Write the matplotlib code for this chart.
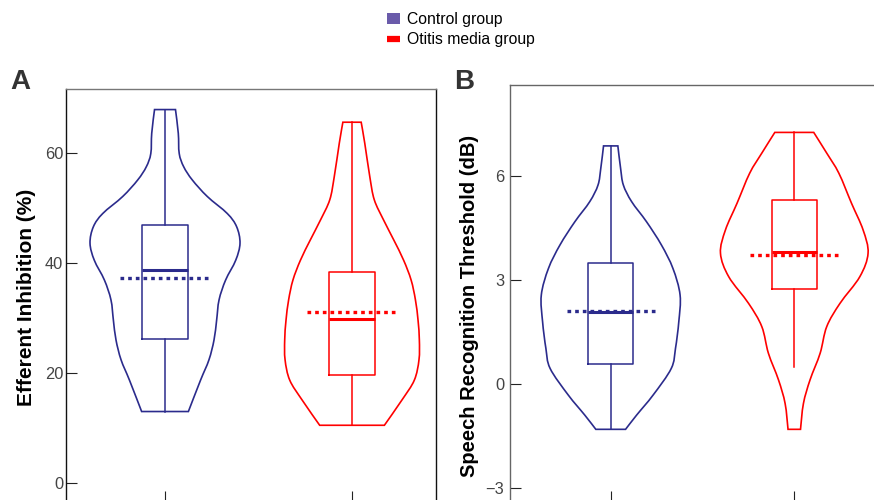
import matplotlib
matplotlib.use("Agg")
import matplotlib.pyplot as plt
from matplotlib.path import Path
from matplotlib.patches import PathPatch, Patch
from matplotlib.lines import Line2D

plt.rcParams['font.family'] = ['Liberation Sans', 'DejaVu Sans']

navy = '#2B2B8C'
red = '#FF0000'
legend_navy = '#6A5BAA'

groups = ['Control group', 'Otitis media group']
positions = [1, 2]

# Panel A: efferent inhibition (%) - violin outlines (level, half width)
a_ctrl_levels = [67.9, 63.6, 59.9, 57.5, 55.1, 52.1, 49.0, 46.6, 43.6, 40.5, 36.9, 33.3, 29.6, 26.0, 22.4, 18.7, 13.0]
a_ctrl_width = [0.056, 0.071, 0.076, 0.100, 0.146, 0.226, 0.333, 0.383, 0.401, 0.378, 0.324, 0.289, 0.276, 0.262, 0.235, 0.190, 0.125]
a_om_levels = [65.6, 61.8, 55.7, 51.5, 47.8, 44.2, 40.5, 36.9, 33.3, 29.6, 26.0, 22.4, 18.7, 15.1, 10.5]
a_om_width = [0.049, 0.068, 0.095, 0.119, 0.169, 0.223, 0.276, 0.316, 0.339, 0.353, 0.360, 0.358, 0.333, 0.267, 0.173]

a_q1 = [26.1, 19.6]
a_median = [38.7, 29.8]
a_q3 = [47.0, 38.4]
a_whislo = [13.0, 10.5]
a_whishi = [67.9, 65.6]
a_mean = [37.2, 31.1]

# Panel B: speech recognition threshold (dB)
b_ctrl_levels = [6.88, 6.23, 5.75, 5.27, 4.69, 4.02, 3.34, 2.57, 1.80, 1.03, 0.45, -0.32, -0.90, -1.31]
b_ctrl_width = [0.039, 0.054, 0.069, 0.114, 0.195, 0.276, 0.339, 0.378, 0.371, 0.353, 0.330, 0.231, 0.141, 0.081]
b_om_levels = [7.27, 6.67, 6.09, 5.22, 4.45, 3.78, 3.10, 2.33, 1.66, 0.89, 0.12, -0.56, -1.31]
b_om_width = [0.106, 0.177, 0.243, 0.312, 0.375, 0.402, 0.357, 0.249, 0.177, 0.141, 0.086, 0.050, 0.034]

b_q1 = [0.58, 2.74]
b_median = [2.09, 3.80]
b_q3 = [3.49, 5.33]
b_whislo = [-1.31, 0.50]
b_whishi = [6.88, 7.27]
b_mean = [2.12, 3.73]


def smooth_side(pts):
    # catmull-rom through the points, as bezier segments
    verts, codes = [], []
    n = len(pts)
    for i in range(n - 1):
        p0 = pts[max(i - 1, 0)]
        p1 = pts[i]
        p2 = pts[i + 1]
        p3 = pts[min(i + 2, n - 1)]
        c1 = (p1[0] + (p2[0] - p0[0]) / 6, p1[1] + (p2[1] - p0[1]) / 6)
        c2 = (p2[0] - (p3[0] - p1[0]) / 6, p2[1] - (p3[1] - p1[1]) / 6)
        verts += [c1, c2, p2]
        codes += [Path.CURVE4] * 3
    return verts, codes


def violin(ax, pos, levels, width, color):
    pairs = sorted(zip(levels, width))
    right = [(pos + w, v) for v, w in pairs]
    left = [(pos - w, v) for v, w in pairs[::-1]]
    verts = [right[0]]
    codes = [Path.MOVETO]
    v, c = smooth_side(right)
    verts += v
    codes += c
    verts.append(left[0])
    codes.append(Path.LINETO)
    v, c = smooth_side(left)
    verts += v
    codes += c
    verts.append(right[0])
    codes.append(Path.CLOSEPOLY)
    ax.add_patch(PathPatch(Path(verts, codes), facecolor='none', edgecolor=color, lw=1.2))


def panel(ax, violins, q1, med, q3, lo, hi, mean):
    colors = [navy, red]
    for i, (lv, wd) in enumerate(violins):
        violin(ax, positions[i], lv, wd, colors[i])
        stats = [dict(q1=q1[i], med=med[i], q3=q3[i], whislo=lo[i], whishi=hi[i], fliers=[])]
        ax.bxp(stats, positions=[positions[i]], widths=0.243, showcaps=False,
               showfliers=False, manage_ticks=False,
               boxprops=dict(color=colors[i], lw=1.1),
               whiskerprops=dict(color=colors[i], lw=1.1),
               medianprops=dict(color=colors[i], lw=2.2))
        ax.plot([positions[i] - 0.24, positions[i] + 0.24], [mean[i], mean[i]],
                color=colors[i], lw=2.4, dashes=(1.1, 1.2), solid_capstyle='butt',
                dash_capstyle='butt')


fig = plt.figure(figsize=(8.74, 5.0), dpi=100)

axA = fig.add_axes([66 / 874, 1 - 502 / 500, 370 / 874, 413 / 500])
axB = fig.add_axes([510 / 874, 1 - 502 / 500, 370 / 874, 417 / 500])

panel(axA, [(a_ctrl_levels, a_ctrl_width), (a_om_levels, a_om_width)],
      a_q1, a_median, a_q3, a_whislo, a_whishi, a_mean)
panel(axB, [(b_ctrl_levels, b_ctrl_width), (b_om_levels, b_om_width)],
      b_q1, b_median, b_q3, b_whislo, b_whishi, b_mean)

axA.set_xlim(0.4706, 2.449)
axA.set_ylim(-3.45, 71.64)
axA.set_yticks([0, 20, 40, 60])
axB.set_xlim(0.4515, 2.467)
axB.set_ylim(-3.41, 8.64)
axB.set_yticks([-3, 0, 3, 6])
axB.set_yticklabels(['\u22123', '0', '3', '6'])

for ax, pad in [(axA, 2.0), (axB, 4.0)]:
    ax.set_xticks(positions)
    ax.set_xticklabels([])
    ax.tick_params(direction='in', length=8, width=0.8, colors='#222222',
                   labelcolor='#444444', labelsize=11.8)
    ax.tick_params(axis='y', pad=pad)
    for s in ax.spines.values():
        s.set_linewidth(1.0)

axA.spines['left'].set_color('#111111')
axA.spines['right'].set_color('#111111')
axA.spines['top'].set_color('#777777')
axB.spines['left'].set_color('#666666')
axB.spines['top'].set_color('#666666')
axB.spines['right'].set_visible(False)

axA.set_ylabel('Efferent Inhibition (%)', fontsize=15, fontweight='bold')
axA.yaxis.set_label_coords(-0.08, 0.496)
axB.set_ylabel('Speech Recognition Threshold (dB)', fontsize=14.5, fontweight='bold')
axB.yaxis.set_label_coords(-0.084, 0.47)

fig.text(10 / 874, 1 - 89 / 500, 'A', fontsize=20, fontweight='bold', color='#333333')
fig.text(454 / 874, 1 - 89 / 500, 'B', fontsize=20, fontweight='bold', color='#333333')

handles = [Patch(facecolor=legend_navy, edgecolor='none'),
           Line2D([], [], color=red, lw=4.5, solid_capstyle='butt')]
fig.legend(handles, groups, loc='upper left', bbox_to_anchor=(387 / 874, 1 - 12 / 500),
           frameon=False, fontsize=11.3, handlelength=0.8, handleheight=0.65,
           handletextpad=0.45, labelspacing=0.32, borderpad=0, borderaxespad=0)

fig.savefig('out.png', dpi=100)
